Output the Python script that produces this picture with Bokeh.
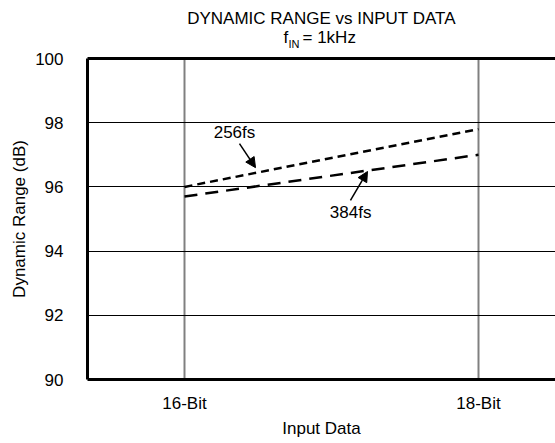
from bokeh.plotting import figure
from bokeh.layouts import column
from bokeh.models import FixedTicker, LinearAxis, Label, Arrow, NormalHead, Range1d
from bokeh.embed import file_html
from bokeh.resources import INLINE

# ---- data ----
x_bits = [16, 18]
x_tick_labels = {16: "16-Bit", 18: "18-Bit"}
dr_256fs = [96.0, 97.8]
dr_384fs = [95.7, 97.0]
y_ticks = [90, 92, 94, 96, 98, 100]

FONT = "Liberation Sans"
FS = "17px"
LEFT = 87
FW = 468

# ---- title strip (frame aligned with the main plot frame) ----
t = figure(frame_width=FW, frame_height=50, output_backend="svg", toolbar_location=None,
           x_range=Range1d(0, FW), y_range=Range1d(0, 50),
           min_border_left=LEFT, min_border_right=0, min_border_top=0, min_border_bottom=0)
t.axis.visible = False
t.grid.visible = False
t.outline_line_color = None
tkw = dict(text_font=FONT, text_color="black", text_baseline="middle")
t.add_layout(Label(x=234, y=32, text="DYNAMIC RANGE vs INPUT DATA", text_align="center",
                   text_font_size=FS, **tkw))
t.add_layout(Label(x=196, y=13, text="f", text_align="left", text_font_size=FS, **tkw))
t.add_layout(Label(x=201, y=7, text="IN", text_align="left", text_font_size="11px", **tkw))
t.add_layout(Label(x=215, y=13, text="= 1kHz", text_align="left", text_font_size=FS, **tkw))

# ---- main plot ----
p = figure(frame_width=FW, frame_height=321, output_backend="svg", toolbar_location=None,
           x_range=Range1d(15.34, 18.524), y_range=Range1d(90, 100),
           min_border_left=LEFT, min_border_right=0, min_border_top=8, min_border_bottom=58,
           x_axis_label="Input Data", y_axis_label="Dynamic Range (dB)")
p.outline_line_color = None

for ax in (p.xaxis[0], p.yaxis[0]):
    ax.axis_line_width = 3
    ax.axis_line_color = "black"
    ax.major_tick_line_color = None
    ax.minor_tick_line_color = None
    ax.major_label_text_font = FONT
    ax.major_label_text_font_size = FS
    ax.major_label_text_color = "black"
    ax.axis_label_text_font = FONT
    ax.axis_label_text_font_size = FS
    ax.axis_label_text_font_style = "normal"
    ax.axis_label_text_color = "black"

p.xaxis.ticker = FixedTicker(ticks=x_bits)
p.xaxis.major_label_overrides = x_tick_labels
p.xaxis.major_label_standoff = 8
p.xaxis.axis_label_standoff = 3
p.yaxis.ticker = FixedTicker(ticks=y_ticks)
p.yaxis.major_label_standoff = 18
p.yaxis.axis_label_standoff = 3

top = LinearAxis(ticker=FixedTicker(ticks=[]), axis_line_width=3, axis_line_color="black",
                 major_tick_line_color=None, minor_tick_line_color=None,
                 major_label_text_alpha=0)
p.add_layout(top, "above")

p.xgrid.ticker = FixedTicker(ticks=x_bits)
p.xgrid.grid_line_color = "#808080"
p.xgrid.grid_line_width = 2
p.ygrid.ticker = FixedTicker(ticks=y_ticks)
p.ygrid.grid_line_color = "black"
p.ygrid.grid_line_width = 1

p.line(x_bits, dr_256fs, line_color="black", line_width=2.5, line_dash="8 5")
p.line(x_bits, dr_384fs, line_color="black", line_width=2.5, line_dash="13 8")

lab_kw = dict(text_font=FONT, text_font_size=FS, text_color="black",
              text_align="center", text_baseline="middle")
p.add_layout(Label(x=16.34, y=97.69, text="256fs", **lab_kw))
p.add_layout(Label(x=17.13, y=95.2, text="384fs", **lab_kw))
p.add_layout(Arrow(x_start=16.374, y_start=97.35, x_end=16.483, y_end=96.6,
                   line_width=1.5, line_color="black",
                   end=NormalHead(size=10, fill_color="black", line_color="black")))
p.add_layout(Arrow(x_start=17.129, y_start=95.58, x_end=17.245, y_end=96.48,
                   line_width=1.5, line_color="black",
                   end=NormalHead(size=10, fill_color="black", line_color="black")))

layout = column(t, p, spacing=0)
open("out.html", "w").write(file_html(layout, INLINE))
